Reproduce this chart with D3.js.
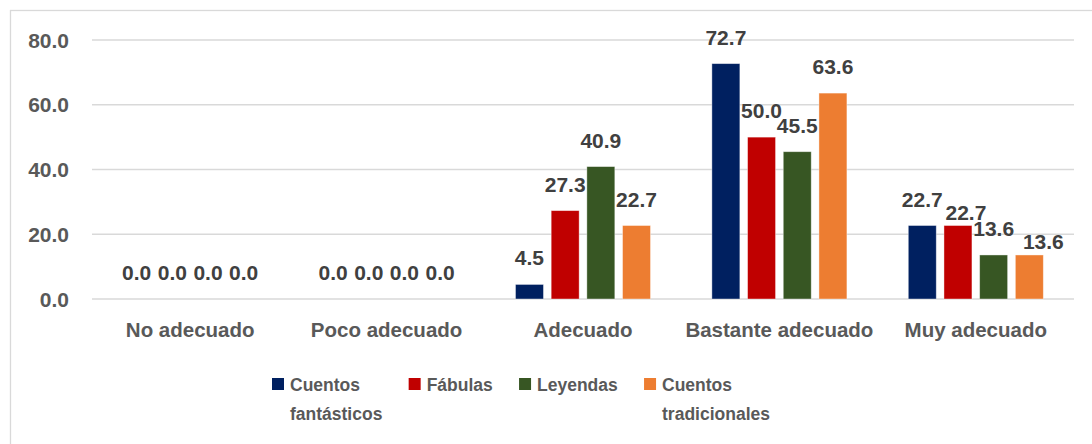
<!DOCTYPE html>
<html>
<head>
<meta charset="utf-8">
<script src="https://cdn.jsdelivr.net/npm/d3@7/dist/d3.min.js"></script>
<style>
  html, body { margin: 0; padding: 0; background: #fff; }
  svg { display: block; font-family: "Liberation Sans", Arial, sans-serif; font-weight: bold; }
</style>
</head>
<body>
<svg id="chart" width="1092" height="444"></svg>
<script>
const categories = ["No adecuado", "Poco adecuado", "Adecuado", "Bastante adecuado", "Muy adecuado"];
const seriesNames = ["Cuentos fantásticos", "Fábulas", "Leyendas", "Cuentos tradicionales"];
const cuentosFantasticos = [0.0, 0.0, 4.5, 72.7, 22.7];
const fabulas = [0.0, 0.0, 27.3, 50.0, 22.7];
const leyendas = [0.0, 0.0, 40.9, 45.5, 13.6];
const cuentosTradicionales = [0.0, 0.0, 22.7, 63.6, 13.6];
const yTicks = [0, 20, 40, 60, 80];
const legendLines = [["Cuentos", "fantásticos"], ["Fábulas"], ["Leyendas"], ["Cuentos", "tradicionales"]];

const seriesValues = [cuentosFantasticos, fabulas, leyendas, cuentosTradicionales];
const colors = ["#002060", "#C00000", "#375623", "#ED7D31"];

// manual nudges of overlapping data labels (as in the reference)
const labelNudges = [
  { cat: "Muy adecuado", series: "Fábulas", dx: 8, dy: 13.5 },
  { cat: "Muy adecuado", series: "Cuentos tradicionales", dx: 14, dy: 13 }
];

const svg = d3.select("#chart");

// chart border
svg.append("rect")
  .attr("x", 10.5).attr("y", 10.5)
  .attr("width", 1100).attr("height", 460)
  .attr("fill", "none").attr("stroke", "#d9d9d9").attr("stroke-width", 1.3);

const x0 = d3.scaleBand().domain(categories).range([92, 1074]).padding(0);
const x1 = d3.scaleBand().domain(seriesNames).range([0, x0.bandwidth()])
  .paddingInner(0.216).paddingOuter(0.86);
const y = d3.scaleLinear().domain([0, 80]).range([299, 40]);

// gridlines
svg.append("g").selectAll("line").data(yTicks).join("line")
  .attr("x1", 92).attr("x2", 1074)
  .attr("y1", d => y(d)).attr("y2", d => y(d))
  .attr("stroke", "#d9d9d9").attr("stroke-width", 1.5);

// y tick labels
svg.append("g").selectAll("text").data(yTicks).join("text")
  .attr("x", 69).attr("y", d => y(d) + 7.5)
  .attr("text-anchor", "end")
  .attr("font-size", 21).attr("fill", "#595959")
  .text(d => d3.format(".1f")(d));

// bars
const rows = [];
categories.forEach((c, ci) => {
  seriesNames.forEach((s, si) => {
    rows.push({ cat: c, series: s, value: seriesValues[si][ci], color: colors[si] });
  });
});

svg.append("g").selectAll("rect").data(rows).join("rect")
  .attr("x", d => x0(d.cat) + x1(d.series))
  .attr("y", d => y(d.value))
  .attr("width", x1.bandwidth())
  .attr("height", d => y(0) - y(d.value))
  .attr("fill", d => d.color)
  .attr("stroke", "#ffffff").attr("stroke-opacity", 0.5).attr("stroke-width", 0.8);

// data labels
function nudge(d) {
  return labelNudges.find(n => n.cat === d.cat && n.series === d.series) || { dx: 0, dy: 0 };
}
svg.append("g").selectAll("text").data(rows).join("text")
  .attr("x", d => x0(d.cat) + x1(d.series) + x1.bandwidth() / 2 + nudge(d).dx)
  .attr("y", d => y(d.value) - 19 + nudge(d).dy)
  .attr("text-anchor", "middle")
  .attr("font-size", 21).attr("fill", "#404040")
  .text(d => d3.format(".1f")(d.value));

// category labels
svg.append("g").selectAll("text").data(categories).join("text")
  .attr("x", d => x0(d) + x0.bandwidth() / 2)
  .attr("y", 337)
  .attr("text-anchor", "middle")
  .attr("font-size", 20.5).attr("fill", "#595959")
  .text(d => d);

// legend font: prefer a narrow face (closer to the original), else regular
function textWidth(family, size) {
  const t = svg.append("text").attr("font-family", family).attr("font-size", size)
    .attr("font-weight", "bold").text("Leyendas fantásticos");
  const w = t.node().getComputedTextLength();
  t.remove();
  return w;
}
const wNarrow = textWidth("'Liberation Sans Narrow', 'Liberation Sans'", 20);
const wRegular = textWidth("'Liberation Sans'", 20);
const narrowOk = wNarrow < wRegular * 0.92;
const legendFamily = narrowOk ? "'Liberation Sans Narrow'" : "'Liberation Sans'";
const legendSize = narrowOk ? 20.5 : 17.5;

const legend = svg.append("g");
let lx = 272;
seriesNames.forEach((s, i) => {
  const g = legend.append("g");
  g.append("rect").attr("x", lx).attr("y", 378).attr("width", 12).attr("height", 12)
    .attr("fill", colors[i]);
  const t = g.append("text").attr("font-size", legendSize).attr("font-family", legendFamily)
    .attr("fill", "#595959");
  legendLines[i].forEach((line, li) => {
    t.append("tspan").attr("x", lx + 18).attr("y", 391 + li * 29).text(line);
  });
  const w = t.node().getBBox().width;
  lx = lx + 18 + w + 26;
});
</script>
</body>
</html>
